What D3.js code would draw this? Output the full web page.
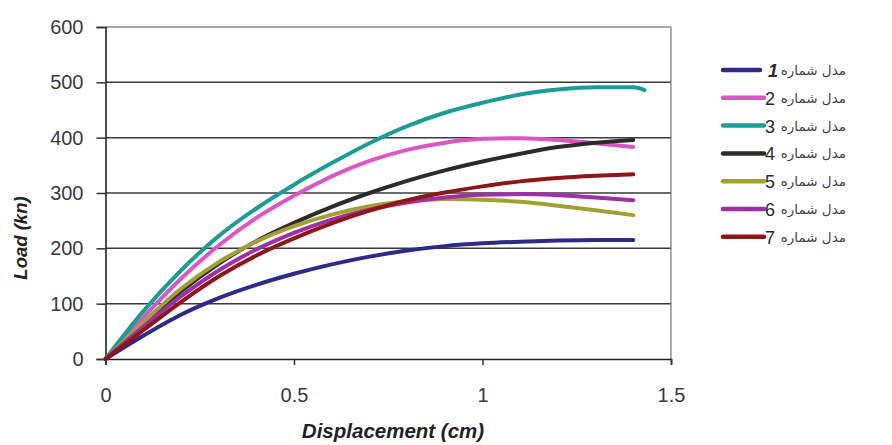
<!DOCTYPE html>
<html>
<head>
<meta charset="utf-8">
<script src="https://cdn.jsdelivr.net/npm/d3@7"></script>
<style>
  body { margin: 0; background: #fff; }
  text { font-family: "Liberation Sans", Arial, sans-serif; }
</style>
</head>
<body>
<div id="chart"></div>
<script>
// Data
var disp = [0, 0.1, 0.2, 0.3, 0.4, 0.5, 0.6, 0.7, 0.8, 0.9, 1.0, 1.1, 1.2, 1.3, 1.4];
var disp3 = disp.concat([1.43]);

var model1 = [0, 42, 80, 110, 134, 154, 171, 185, 196, 204, 209, 212, 214, 215, 215];
var model2 = [0, 75, 145, 205, 255, 295, 330, 358, 378, 391, 398, 399, 396, 390, 383];
var model3 = [0, 86, 160, 222, 272, 315, 354, 390, 421, 445, 463, 478, 487, 491, 491, 486];
var model4 = [0, 63, 122, 172, 213, 246, 275, 300, 322, 341, 357, 371, 383, 391, 396];
var model5 = [0, 66, 127, 175, 212, 240, 261, 276, 285, 289, 288, 284, 277, 269, 260];
var model6 = [0, 58, 113, 160, 198, 228, 252, 270, 283, 292, 297, 298, 296, 292, 287];
var model7 = [0, 52, 103, 149, 187, 218, 245, 268, 287, 301, 312, 321, 327, 331, 334];

var names = ["مدل شماره", "مدل شماره", "مدل شماره", "مدل شماره", "مدل شماره", "مدل شماره", "مدل شماره"];
var numbers = ["1", "2", "3", "4", "5", "6", "7"];
var colors = ["#2d2a8c", "#dd55c4", "#1a9c98", "#2b2b2b", "#a3a032", "#a12ea6", "#8e1616"];

var xTicks = [0, 0.5, 1, 1.5];
var yTicks = [0, 100, 200, 300, 400, 500, 600];

var series = [
  { x: disp, y: model1 },
  { x: disp, y: model2 },
  { x: disp3, y: model3 },
  { x: disp, y: model4 },
  { x: disp, y: model5 },
  { x: disp, y: model6 },
  { x: disp, y: model7 }
];

var width = 892, height = 445;

var svg = d3.select("#chart")
  .append("svg")
    .attr("width", width)
    .attr("height", height);

var x = d3.scaleLinear().domain([0, 1.5]).range([105.5, 671]);
var y = d3.scaleLinear().domain([0, 600]).range([359, 27]);

// Horizontal gridlines
svg.append("g")
  .selectAll("line")
  .data(yTicks.filter(function (d) { return d > 0; }))
  .enter()
  .append("line")
    .attr("x1", x(0))
    .attr("x2", x(1.5))
    .attr("y1", function (d) { return y(d); })
    .attr("y2", function (d) { return y(d); })
    .attr("stroke", function (d) { return d === 600 ? "#8a8a8a" : "#3a3a3a"; })
    .attr("stroke-width", 1.5);

// Right border of the plot area
svg.append("line")
  .attr("x1", x(1.5))
  .attr("x2", x(1.5))
  .attr("y1", y(600))
  .attr("y2", y(0))
  .attr("stroke", "#777")
  .attr("stroke-width", 1.2);

// Y axis
var yAxis = svg.append("g")
  .attr("transform", "translate(" + x(0) + ",0)")
  .call(d3.axisLeft(y).tickValues(yTicks).tickSize(9).tickPadding(13));
yAxis.select(".domain").attr("stroke", "#222").attr("stroke-width", 1.6);
yAxis.selectAll(".tick line").attr("stroke", "#333").attr("stroke-width", 1.5);
yAxis.selectAll(".tick text")
  .attr("font-size", 20)
  .attr("fill", "#3a3a3a")
  .style("font-family", "'Liberation Sans', Arial, sans-serif");

// X axis
var xAxis = svg.append("g")
  .attr("transform", "translate(0," + y(0) + ")")
  .call(d3.axisBottom(x).tickValues(xTicks).tickSize(6).tickPadding(23)
    .tickFormat(function (d) { return String(d); }));
xAxis.select(".domain").attr("stroke", "#222").attr("stroke-width", 1.6);
xAxis.selectAll(".tick line").attr("stroke", "#333").attr("stroke-width", 1.5);
xAxis.selectAll(".tick text")
  .attr("font-size", 20)
  .attr("fill", "#3a3a3a")
  .style("font-family", "'Liberation Sans', Arial, sans-serif");

// Curves
var line = d3.line()
  .x(function (d) { return x(d[0]); })
  .y(function (d) { return y(d[1]); })
  .curve(d3.curveMonotoneX);

svg.append("g")
  .selectAll("path")
  .data(series)
  .enter()
  .append("path")
    .attr("d", function (s) { return line(s.x.map(function (v, i) { return [v, s.y[i]]; })); })
    .attr("fill", "none")
    .attr("stroke", function (s, i) { return colors[i]; })
    .attr("stroke-width", 4)
    .attr("stroke-linecap", "round")
    .attr("stroke-linejoin", "round");

// Legend
var legend = svg.append("g")
  .selectAll("g")
  .data(numbers)
  .enter()
  .append("g")
    .attr("transform", function (d, i) { return "translate(0," + (70 + i * 27.8) + ")"; });

legend.append("line")
  .attr("x1", 723)
  .attr("x2", function (d, i) { return i === 0 ? 760 : 764; })
  .attr("stroke", function (d, i) { return colors[i]; })
  .attr("stroke-width", 4.5)
  .attr("stroke-linecap", "round");

legend.append("text")
  .attr("x", function (d, i) { return i === 0 ? 768 : 765; })
  .attr("y", 7)
  .attr("font-size", 18)
  .attr("font-weight", function (d, i) { return i === 0 ? "bold" : "normal"; })
  .attr("font-style", function (d, i) { return i === 0 ? "italic" : "normal"; })
  .attr("fill", "#2a2a2a")
  .text(function (d) { return d; });

legend.append("text")
  .attr("x", 846)
  .attr("y", 5)
  .attr("text-anchor", "end")
  .attr("font-size", 13.5)
  .attr("fill", "#444")
  .style("font-family", "'DejaVu Sans', sans-serif")
  .text(function (d, i) { return names[i]; });

// Axis titles
svg.append("text")
  .attr("transform", "rotate(-90)")
  .attr("x", -238)
  .attr("y", 27)
  .attr("text-anchor", "middle")
  .attr("font-size", 18.5)
  .attr("font-weight", "bold")
  .attr("font-style", "italic")
  .attr("fill", "#222")
  .text("Load (kn)");

svg.append("text")
  .attr("x", 393)
  .attr("y", 438)
  .attr("text-anchor", "middle")
  .attr("font-size", 20.5)
  .attr("font-weight", "bold")
  .attr("font-style", "italic")
  .attr("fill", "#222")
  .text("Displacement (cm)");
</script>
</body>
</html>
